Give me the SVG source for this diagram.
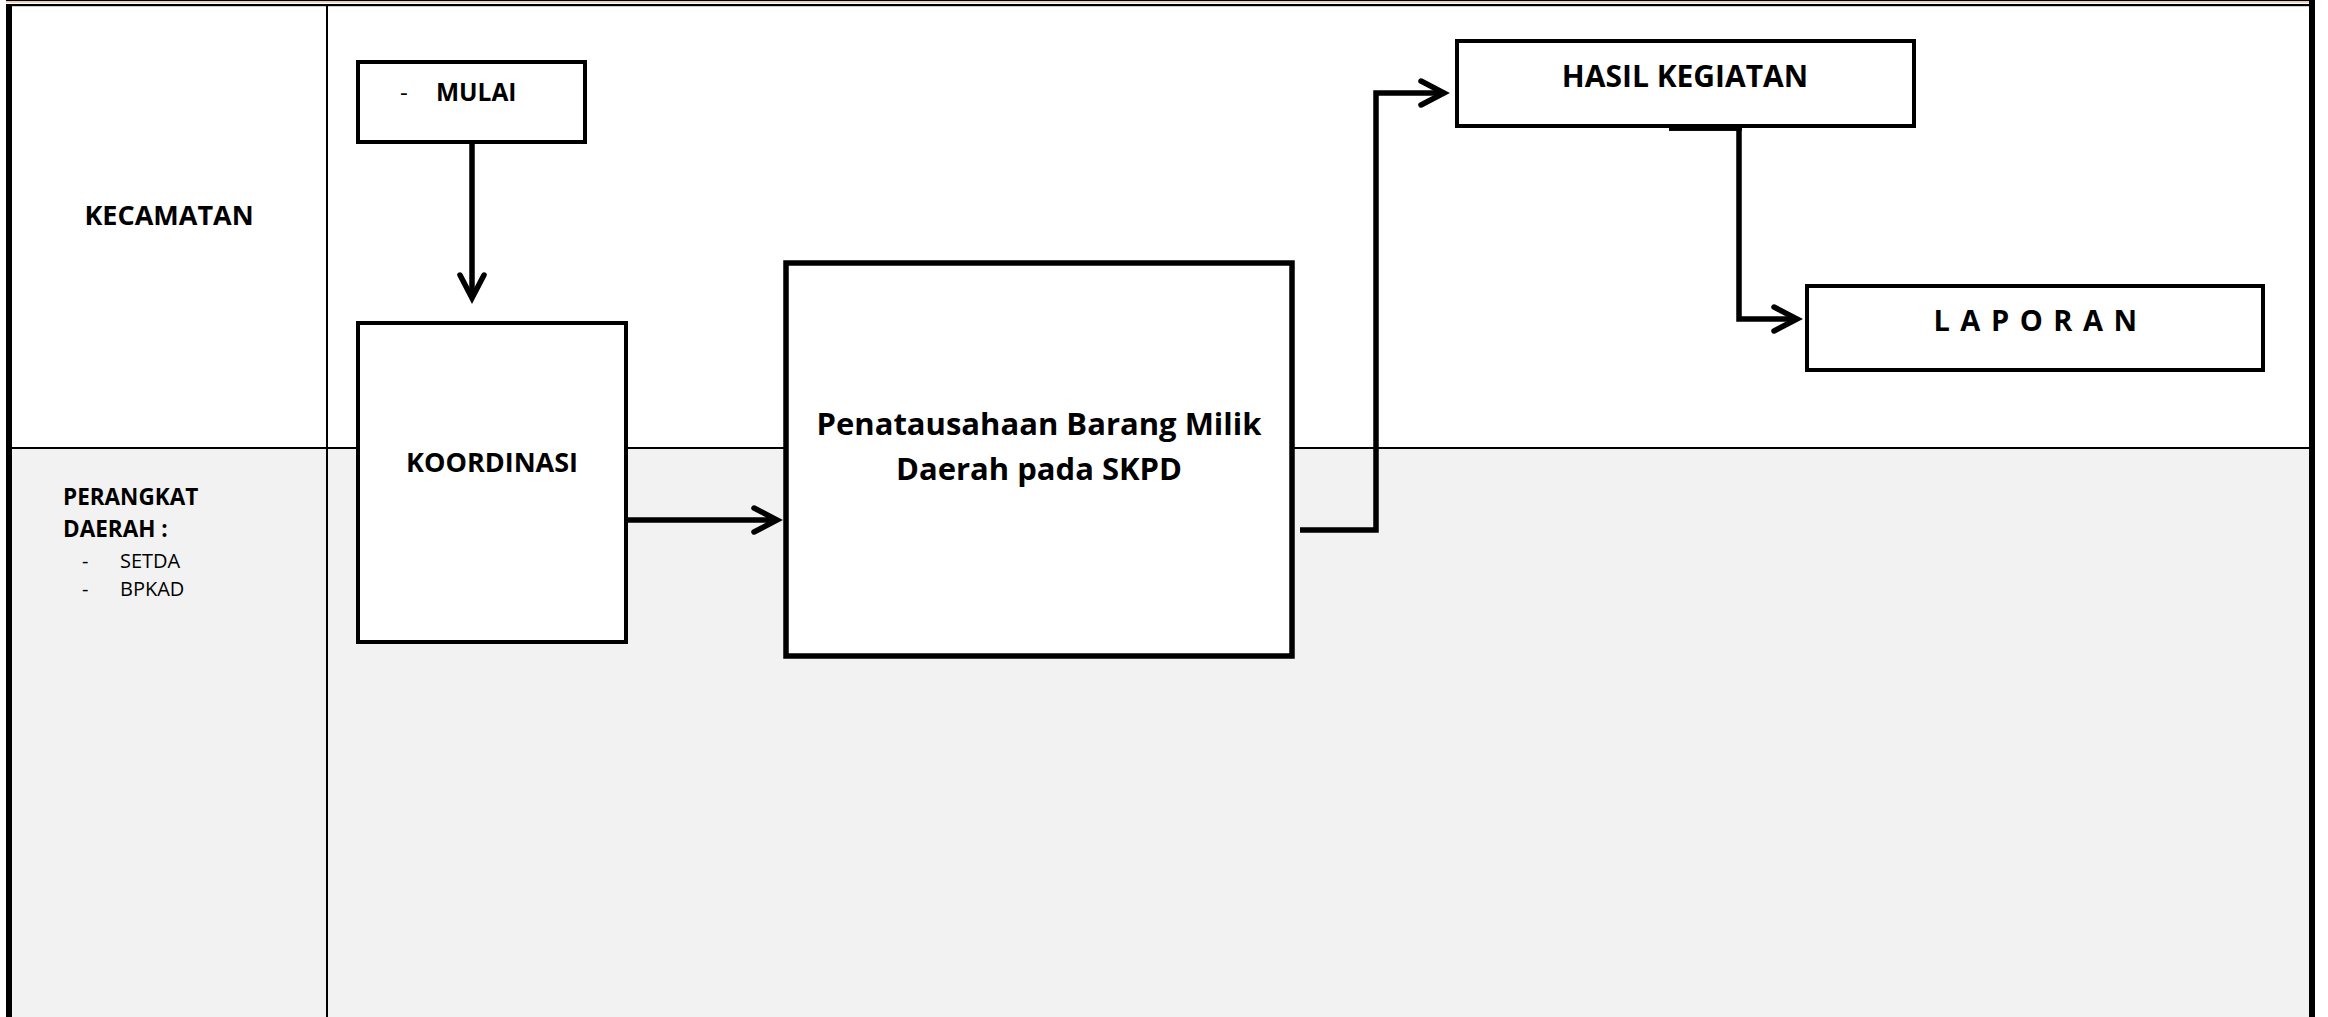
<svg xmlns="http://www.w3.org/2000/svg" width="2328" height="1017" viewBox="0 0 2328 1017">
  <style>
    .box { fill: #ffffff; stroke: #000000; stroke-width: 4; }
    .boxb { fill: #ffffff; stroke: #000000; stroke-width: 5.5; }
    .t { font-family: "Open Sans", "Liberation Sans", sans-serif; font-weight: bold; fill: #000000; }
    .r { font-family: "Open Sans", "Liberation Sans", sans-serif; font-weight: normal; fill: #000000; }
    .conn { fill: none; stroke: #000000; stroke-width: 5.5; stroke-linejoin: miter; }
    .lane { stroke: #000000; stroke-width: 2; fill: none; }
  </style>
  <defs>
    <marker id="arr" markerUnits="userSpaceOnUse" viewBox="-32 -18 40 36" refX="0" refY="0" markerWidth="40" markerHeight="36" orient="auto" overflow="visible">
      <path d="M-23,-12 L0,0 L-23,12" fill="none" stroke="#000000" stroke-width="5.5" stroke-linecap="round" stroke-linejoin="miter"/>
    </marker>
  </defs>

  <!-- frame and lanes -->
  <g id="lanes">
    <rect x="0" y="0" width="2328" height="1017" fill="#ffffff"/>
    <rect x="12" y="448" width="2297" height="569" fill="#f2f2f2"/>
    <rect x="6" y="0" width="2309" height="1.2" fill="#000000"/>
    <rect x="6" y="1.2" width="2303" height="1.6" fill="#f8cba8"/>
    <rect x="6" y="4" width="2309" height="2.2" fill="#000000"/>
    <rect x="6" y="4" width="6" height="1013" fill="#000000"/>
    <rect x="2309" y="0" width="6" height="1017" fill="#000000"/>
    <line class="lane" x1="327" y1="6" x2="327" y2="1017"/>
    <line class="lane" x1="12" y1="448" x2="2309" y2="448"/>
  </g>

  <g id="lane-kecamatan">
    <text class="t" x="169" y="225" font-size="27" text-anchor="middle">KECAMATAN</text>
  </g>
  <g id="lane-perangkat">
    <text class="t" x="63" y="505" font-size="22.5">PERANGKAT</text>
    <text class="t" x="63" y="537" font-size="22.5">DAERAH :</text>
    <text class="r" x="82" y="568" font-size="20">-</text>
    <text class="r" x="120" y="568" font-size="20">SETDA</text>
    <text class="r" x="82" y="596" font-size="20">-</text>
    <text class="r" x="120" y="596" font-size="20">BPKAD</text>
  </g>

  <!-- connectors -->
  <g id="connectors">
    <path class="conn" d="M472,144 V298" marker-end="url(#arr)"/>
    <path class="conn" d="M627,520 H777" marker-end="url(#arr)"/>
    <path class="conn" d="M1300,530 H1376 V93 H1444" marker-end="url(#arr)"/>
    <path class="conn" d="M1669,128 H1739 V319 H1797" marker-end="url(#arr)"/>
  </g>

  <g id="node-mulai">
    <rect class="box" x="358" y="62" width="227" height="80"/>
    <text class="r" x="400" y="101" font-size="24">-</text>
    <text class="t" x="436" y="101" font-size="24.5">MULAI</text>
  </g>

  <g id="node-koordinasi">
    <rect class="box" x="358" y="323" width="268" height="319"/>
    <text class="t" x="492" y="472" font-size="27" text-anchor="middle">KOORDINASI</text>
  </g>

  <g id="node-penatausahaan">
    <rect class="boxb" x="786" y="263" width="506" height="393"/>
    <text class="t" x="1039" y="435" font-size="31" text-anchor="middle">Penatausahaan Barang Milik</text>
    <text class="t" x="1039" y="480" font-size="31" text-anchor="middle">Daerah pada SKPD</text>
  </g>

  <g id="node-hasil">
    <rect class="box" x="1457" y="41" width="457" height="85"/>
    <text class="t" x="1685" y="87" font-size="30" text-anchor="middle">HASIL KEGIATAN</text>
  </g>

  <g id="node-laporan">
    <rect class="box" x="1807" y="286" width="456" height="84"/>
    <text class="t" x="2036" y="331" font-size="29" text-anchor="middle" letter-spacing="1.5">L A P O R A N</text>
  </g>

  <!-- thick stub along bottom of HASIL box -->
  <g id="connector-stub">
    <path class="conn" d="M1669,128 H1742"/>
  </g>
</svg>
